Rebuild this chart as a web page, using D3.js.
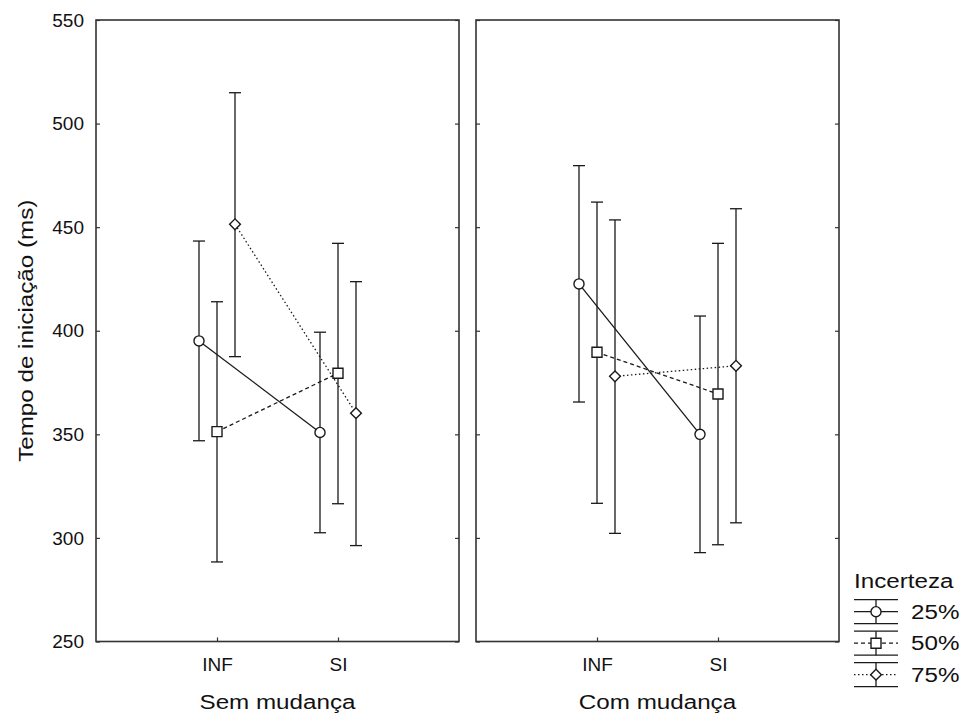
<!DOCTYPE html>
<html>
<head>
<meta charset="utf-8">
<script src="https://cdn.jsdelivr.net/npm/d3@7/dist/d3.min.js"></script>
<style>
  html, body { margin: 0; padding: 0; background: #fff; }
  svg { display: block; font-family: "Liberation Sans", Arial, Helvetica, sans-serif; }
</style>
</head>
<body>
<svg id="chart" width="966" height="722"></svg>
<script>
// Panels (task condition), x categories and uncertainty levels
const panels = ["Sem mudança", "Com mudança"];
const conditions = ["INF", "SI"];
const levels = ["25%", "50%", "75%"];
const yTicks = [250, 300, 350, 400, 450, 500, 550];

// Mean initiation time (ms), indexed [panel][condition]
const mean25 = [[395.1, 350.9], [422.6, 350.0]];
const mean50 = [[351.3, 379.5], [389.6, 369.5]];
const mean75 = [[451.4, 360.2], [378.0, 383.1]];

// Upper and lower ends of the error bars (ms)
const upper25 = [[443.3, 399.3], [479.7, 407.1]];
const lower25 = [[346.9, 302.5], [365.6, 292.9]];
const upper50 = [[414.0, 442.2], [462.1, 442.2]];
const lower50 = [[288.4, 316.5], [316.7, 296.7]];
const upper75 = [[514.9, 423.7], [453.5, 458.9]];
const lower75 = [[387.5, 296.3], [302.2, 307.3]];

const series = [
  { name: levels[0], mean: mean25, upper: upper25, lower: lower25, dash: null, symbol: d3.symbolCircle, size: 80, rot: 0 },
  { name: levels[1], mean: mean50, upper: upper50, lower: lower50, dash: "4,3", symbol: d3.symbolSquare, size: 100, rot: 0 },
  { name: levels[2], mean: mean75, upper: upper75, lower: lower75, dash: "1.5,2.5", symbol: d3.symbolSquare, size: 58, rot: 45 }
];

const svg = d3.select("#chart");
const ink = "#1a1a1a";
const frameInk = "#333";
const wide = "scale(1.21,1)"; // titles use a wide-set face

const plotTop = 20, plotBottom = 641.5;
const panelX = [[96, 459], [476, 839]];

const y = d3.scaleLinear().domain([250, 550]).range([plotBottom, plotTop]);
const offset = d3.scalePoint().domain(levels).range([-18, 18]);

function marker(sel, s, cx, cy) {
  sel.append("path").attr("d", d3.symbol(s.symbol, s.size)())
    .attr("transform", `translate(${cx},${cy}) rotate(${s.rot})`)
    .attr("fill", "#fff").attr("stroke", ink).attr("stroke-width", 1.4);
}

panels.forEach((title, p) => {
  const [x0, x1] = panelX[p];
  const x = d3.scalePoint().domain(conditions).range([x0, x1]).padding(1);
  const g = svg.append("g");

  // left ticks (labels only on first panel)
  const left = d3.axisLeft(y).tickValues(yTicks).tickSizeInner(-4).tickSizeOuter(0).tickPadding(12)
    .tickFormat(p === 0 ? d3.format("d") : () => "");
  g.append("g").attr("transform", `translate(${x0},0)`).call(left)
    .call(s => s.select(".domain").remove());
  // right ticks
  g.append("g").attr("transform", `translate(${x1},0)`)
    .call(d3.axisLeft(y).tickValues(yTicks).tickSizeInner(4).tickSizeOuter(0).tickFormat(() => ""))
    .call(s => s.select(".domain").remove());
  // bottom ticks + category labels
  g.append("g").attr("transform", `translate(0,${plotBottom})`)
    .call(d3.axisBottom(x).tickSizeInner(-4).tickSizeOuter(0).tickPadding(16))
    .call(s => s.select(".domain").remove());

  g.selectAll(".tick line").attr("stroke", frameInk).attr("stroke-width", 1.2);
  g.selectAll(".tick text").attr("font-size", 19).attr("fill", "#111")
    .attr("font-family", "Liberation Sans, Arial, sans-serif");

  // frame
  g.append("rect").attr("x", x0).attr("y", plotTop).attr("width", x1 - x0).attr("height", plotBottom - plotTop)
    .attr("fill", "none").attr("stroke", frameInk).attr("stroke-width", 1.6);

  // panel title
  g.append("text").attr("transform", `translate(${(x0 + x1) / 2},708.5) ${wide}`).attr("text-anchor", "middle")
    .attr("font-size", 20).attr("fill", "#111").text(title);

  const px = (s, c) => x(conditions[c]) + offset(s.name);

  // error bars
  series.forEach(s => {
    conditions.forEach((c, ci) => {
      const cx = px(s, ci);
      const eb = g.append("g").attr("stroke", ink).attr("stroke-width", 1.3);
      eb.append("line").attr("x1", cx).attr("x2", cx)
        .attr("y1", y(s.upper[p][ci])).attr("y2", y(s.lower[p][ci]));
      [s.upper[p][ci], s.lower[p][ci]].forEach(v => {
        eb.append("line").attr("x1", cx - 6).attr("x2", cx + 6).attr("y1", y(v)).attr("y2", y(v));
      });
    });
  });

  // connecting lines
  const line = d3.line().x(d => d[0]).y(d => d[1]);
  series.forEach(s => {
    const pts = conditions.map((c, ci) => [px(s, ci), y(s.mean[p][ci])]);
    g.append("path").attr("d", line(pts)).attr("fill", "none").attr("stroke", ink)
      .attr("stroke-width", 1.3).attr("stroke-dasharray", s.dash);
  });

  // markers
  series.forEach(s => {
    conditions.forEach((c, ci) => marker(g, s, px(s, ci), y(s.mean[p][ci])));
  });
});

// y axis title
svg.append("text").attr("transform", `translate(33,${(plotTop + plotBottom) / 2}) rotate(-90) ${wide}`)
  .attr("text-anchor", "middle").attr("font-size", 20).attr("fill", "#111")
  .text("Tempo de iniciação (ms)");

// legend
const legend = svg.append("g");
legend.append("text").attr("transform", `translate(854,588) ${wide}`)
  .attr("font-size", 20).attr("fill", "#111").text("Incerteza");
series.forEach((s, i) => {
  const my = 611.7 + i * 31.5;
  const row = legend.append("g").attr("stroke", ink).attr("stroke-width", 1.3);
  row.append("line").attr("x1", 854).attr("x2", 898).attr("y1", my - 12).attr("y2", my - 12);
  row.append("line").attr("x1", 854).attr("x2", 898).attr("y1", my + 12).attr("y2", my + 12);
  row.append("line").attr("x1", 876).attr("x2", 876).attr("y1", my - 12).attr("y2", my + 12);
  row.append("line").attr("x1", 854).attr("x2", 898).attr("y1", my).attr("y2", my)
    .attr("stroke-dasharray", s.dash);
  marker(legend, s, 876, my);
  legend.append("text").attr("transform", `translate(911,${my}) ${wide}`).attr("dy", "0.36em")
    .attr("font-size", 20).attr("fill", "#111").text(s.name);
});
</script>
</body>
</html>
